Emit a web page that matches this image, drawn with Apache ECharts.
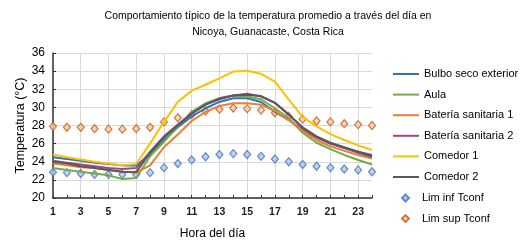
<!DOCTYPE html>
<html>
<head>
<meta charset="utf-8">
<script src="https://cdn.jsdelivr.net/npm/echarts@6/dist/echarts.min.js"></script>
<style>html,body{margin:0;padding:0;background:#fff;}#c{width:529px;height:249px;}</style>
</head>
<body>
<div id="c"></div>
<script>
var hours = ['1','2','3','4','5','6','7','8','9','10','11','12','13','14','15','16','17','18','19','20','21','22','23','24'];
var bulboSeco = [24.5,24.3,24.1,23.9,23.75,23.6,23.6,24.8,26.4,27.8,29.0,29.9,30.6,31.0,31.0,30.6,29.5,28.6,27.5,26.7,26.0,25.5,25.1,24.75];
var aula = [23.3,23.1,22.9,22.7,22.5,22.1,22.2,24.6,26.2,27.9,29.5,30.45,31.0,31.3,31.2,30.9,29.9,28.8,27.2,26.1,25.4,24.75,24.2,23.7];
var bateria1 = [23.8,23.6,23.4,23.3,23.1,22.9,22.8,23.6,25.6,27.0,28.5,29.5,30.15,30.45,30.45,30.3,29.6,28.6,27.4,26.4,25.7,25.2,24.75,24.35];
var bateria2 = [24.1,23.9,23.7,23.5,23.3,23.2,23.3,25.1,26.8,28.1,29.35,30.3,31.0,31.3,31.5,31.2,30.5,29.2,27.7,26.7,26.0,25.5,25.0,24.55];
var comedor1 = [24.8,24.5,24.25,24.0,23.8,23.6,23.75,26.0,28.4,30.6,31.85,32.5,33.2,33.95,34.05,33.7,32.85,30.85,28.95,27.9,27.05,26.4,25.8,25.3];
var comedor2 = [24.0,23.8,23.5,23.3,23.1,22.9,22.85,25.0,26.7,28.0,29.3,30.3,30.9,31.3,31.4,31.25,30.5,29.2,27.8,26.8,26.1,25.6,25.1,24.6];
var limInf = [22.85,22.8,22.7,22.6,22.6,22.6,22.6,22.8,23.35,23.8,24.2,24.55,24.8,24.9,24.8,24.6,24.3,24.0,23.7,23.5,23.35,23.2,23.1,22.9];
var limSup = [27.9,27.8,27.8,27.65,27.6,27.6,27.65,27.8,28.4,28.85,29.2,29.6,29.8,29.93,29.86,29.7,29.4,29.0,28.7,28.5,28.4,28.2,28.1,28.0];
var lineNames = ['Bulbo seco exterior','Aula','Batería sanitaria 1','Batería sanitaria 2','Comedor 1','Comedor 2'];
var pointNames = ['Lim inf Tconf','Lim sup Tconf'];

var FONT = 'Liberation Sans';
function line(name, data, color) {
  return { name: name, type: 'line', data: data, symbol: 'none', lineStyle: { color: color, width: 2 }, itemStyle: { color: color } };
}
function pts(name, data, border, fill) {
  return { name: name, type: 'scatter', data: data, symbol: 'diamond', symbolSize: [7, 8],
    itemStyle: { color: fill, borderColor: border, borderWidth: 1.2 } };
}
var chart = echarts.init(document.getElementById('c'), null, { renderer: 'canvas' });
chart.setOption({
  animation: false,
  backgroundColor: '#fff',
  title: {
    text: 'Comportamiento típico de la temperatura promedio a través del día en\nNicoya, Guanacaste, Costa Rica',
    left: 263, top: 3, textAlign: 'center',
    textStyle: { fontFamily: FONT, fontSize: 10.5, fontWeight: 'normal', color: '#000', lineHeight: 16 }
  },
  legend: [{
    orient: 'vertical', left: 388, top: 62, itemWidth: 26, itemHeight: 2, itemGap: 6.6,
    icon: 'rect',
    textStyle: { fontFamily: FONT, fontSize: 11, color: '#000', lineHeight: 14 },
    data: lineNames
  }, {
    orient: 'vertical', left: 396, top: 186, itemWidth: 7, itemHeight: 7, itemGap: 6.6,
    icon: 'diamond',
    textStyle: { fontFamily: FONT, fontSize: 11, color: '#000', lineHeight: 14, padding: [0, 0, 0, 8] },
    data: pointNames
  }],
  grid: { left: 53, right: 157, top: 53, bottom: 51 },
  xAxis: {
    type: 'category', data: hours, boundaryGap: false,
    name: 'Hora del día', nameLocation: 'middle', nameGap: 30,
    nameTextStyle: { fontFamily: FONT, fontSize: 12, color: '#000' },
    axisLine: { lineStyle: { color: '#333', width: 1.5 } },
    axisTick: { show: true, inside: true, length: 3, interval: 0, lineStyle: { color: '#333' } },
    axisLabel: { interval: 1, fontFamily: FONT, fontSize: 10.5, fontWeight: 'bold', color: '#222', margin: 9 },
    splitLine: { show: true, interval: 1, lineStyle: { color: '#d9d9d9' } }
  },
  yAxis: {
    type: 'value', min: 20, max: 36, interval: 2,
    name: 'Temperatura (°C)', nameLocation: 'middle', nameGap: 26, nameRotate: 90, nameMoveOverlap: false,
    nameTextStyle: { fontFamily: FONT, fontSize: 12.5, color: '#000' },
    axisLine: { show: true, lineStyle: { color: '#333', width: 1.5 } },
    axisTick: { show: true, inside: true, length: 3, lineStyle: { color: '#333' } },
    axisLabel: { fontFamily: FONT, fontSize: 12, color: '#000', margin: 8 },
    splitLine: { show: true, lineStyle: { color: '#d9d9d9' } }
  },
  series: [
    line(lineNames[0], bulboSeco, '#2E75B6'),
    line(lineNames[1], aula, '#70AD47'),
    line(lineNames[2], bateria1, '#ED7D31'),
    line(lineNames[3], bateria2, '#9E4A7E'),
    line(lineNames[4], comedor1, '#FFC000'),
    line(lineNames[5], comedor2, '#595959'),
    pts(pointNames[0], limInf, '#4472C4', '#B4C7E7'),
    pts(pointNames[1], limSup, '#C55A11', '#F8CBAD')
  ]
});
</script>
</body>
</html>
